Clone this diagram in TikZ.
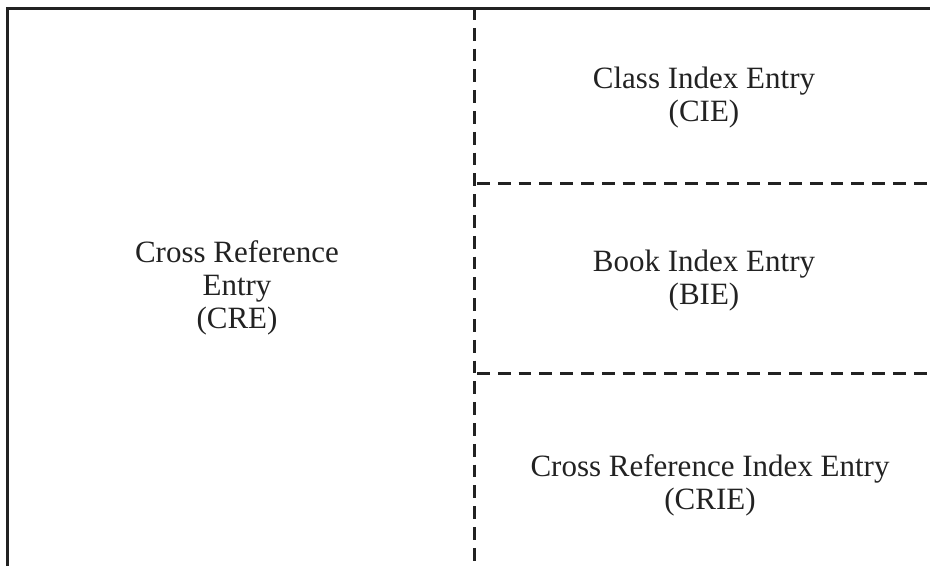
\documentclass[tikz,border=0pt]{standalone}
\usepackage{fontspec}
\setmainfont{Liberation Serif}
\definecolor{inkgray}{HTML}{222222}
\tikzset{
  frameline/.style={draw=inkgray, line width=3pt},
  splitline/.style={draw=inkgray, line width=3pt, dash pattern=on 12.8pt off 8pt},
  entrytext/.style={text=inkgray, align=center, font=\fontsize{31}{33}\selectfont}
}
\begin{document}
\begin{tikzpicture}[x=1pt, y=-1pt]
	\useasboundingbox (0,0) rectangle (930,566);
	% outer frame (left and top only)
	\draw[frameline] (7,566) -- (7,8) -- (930,8);
	% column split and row splits
	\draw[splitline] (474.5,7) -- (474.5,566);
	\draw[splitline] (477,183) -- (930,183);
	\draw[splitline] (477,373) -- (930,373);
	% entries
	\node[entrytext] (cre) at (237,288) {Cross Reference\\Entry\\(CRE)};
	\node[entrytext] (cie) at (704,98) {Class Index Entry\\(CIE)};
	\node[entrytext] (bie) at (704,281) {Book Index Entry\\(BIE)};
	\node[entrytext] (crie) at (710,485) {Cross Reference Index Entry\\(CRIE)};
\end{tikzpicture}
\end{document}
